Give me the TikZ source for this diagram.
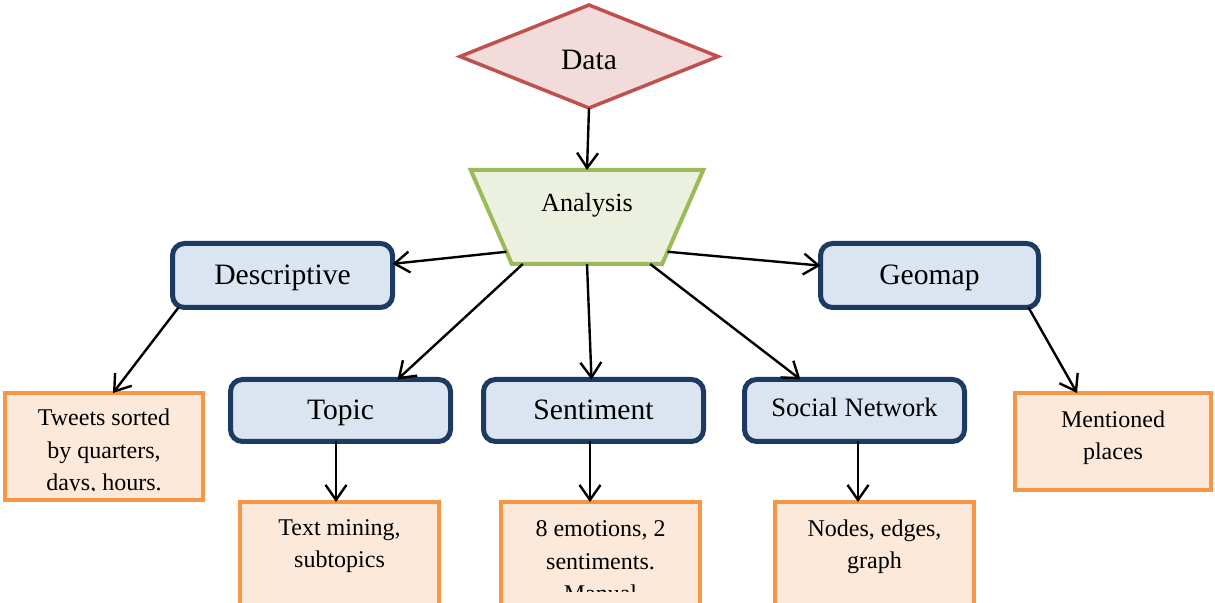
\documentclass[tikz,border=0pt]{standalone}
\usepackage{fontspec}
\setmainfont{Liberation Serif}
\usetikzlibrary{shapes.geometric,arrows.meta,calc}
\definecolor{bluedraw}{HTML}{1D3A62}
\definecolor{bluefill}{HTML}{DBE5F1}
\definecolor{orangedraw}{HTML}{F79646}
\definecolor{orangefill}{HTML}{FDE9D9}
\definecolor{greendraw}{HTML}{9BBB59}
\definecolor{greenfill}{HTML}{EBF1DE}
\definecolor{reddraw}{HTML}{C0504D}
\definecolor{redfill}{HTML}{F2DCDB}
\tikzset{
  bluebox/.style={draw=bluedraw, fill=bluefill, line width=2.5pt, rounded corners=6pt,
    minimum width=110pt, minimum height=32pt, inner sep=0pt, outer sep=0pt,
    font=\fontsize{14.8}{17}\selectfont, text height=12pt, text depth=3pt},
  orangebox/.style={draw=orangedraw, fill=orangefill, line width=2pt, inner sep=0pt, outer sep=0pt},
  otext/.style={font=\fontsize{12}{16.25}\selectfont, align=center, anchor=north, inner sep=0pt},
  arr/.style={-{Straight Barb[length=7.5pt,width=10.5pt]}, line width=1.2pt, black},
}
\begin{document}
\begin{tikzpicture}[x=0.5pt,y=-0.5pt]
\useasboundingbox (0,0) rectangle (1215,603);
\clip (0,0) rectangle (1215,603);

% top shapes
\node[diamond, draw=reddraw, fill=redfill, line width=1.75pt, inner sep=0pt, outer sep=0pt,
  minimum width=129pt, minimum height=51.5pt, font=\fontsize{14.8}{17}\selectfont,
  text height=15.3pt, text depth=2pt]
  (data) at (589,56.5) {Data};
\node[trapezium, trapezium left angle=116.6, trapezium right angle=116.6, trapezium stretches=true,
  draw=greendraw, fill=greenfill, line width=2pt, inner sep=2pt, outer sep=0pt,
  minimum width=117pt, minimum height=47pt, font=\fontsize{13.1}{15}\selectfont,
  text height=9pt, text depth=14.2pt]
  (ana) at (587,217) {Analysis};

% blue boxes
\node[bluebox] (desc) at (282.5,275.5) {Descriptive};
\node[bluebox, minimum width=109pt] (geo) at (929.5,275.5) {Geomap};
\node[bluebox, minimum height=31pt, text height=12.5pt] (topic) at (340.5,410.5) {Topic};
\node[bluebox, minimum height=31pt, text height=12.5pt] (sen) at (593.5,410.5) {Sentiment};
\node[bluebox, minimum height=31pt, font=\fontsize{13.3}{15}\selectfont, text height=9.5pt] (soc) at (854.5,410.5) {Social Network};

% orange boxes
\node[orangebox, minimum width=99pt, minimum height=53.5pt] (tw) at (104,446.5) {};
\node[orangebox, minimum width=99.5pt, minimum height=74pt] (tm) at (339.5,576) {};
\node[orangebox, minimum width=99.5pt, minimum height=74pt] (emo) at (600.5,576) {};
\node[orangebox, minimum width=99.5pt, minimum height=74pt] (nod) at (874.5,576) {};
\node[orangebox, minimum width=98pt, minimum height=48.5pt] (men) at (1113,441.5) {};

% orange texts
\begin{scope}
  \clip (0,391) rectangle (210,490.5);
  \node[otext] (twt) at (104,408.6) {Tweets sorted\\by quarters,\\days, hours.};
\end{scope}
\node[otext] (tmt) at (339.5,519) {Text mining,\\subtopics};
\begin{scope}
  \clip (495,500) rectangle (705,592);
  \node[otext] (emot) at (600.5,520.5) {8 emotions, 2\\sentiments.\\Manual};
\end{scope}
\node[otext] (nodt) at (874.5,519) {Nodes, edges,\\graph};
\node[otext] (ment) at (1113,410) {Mentioned\\places};

% connectors
\draw[arr] (data.south) -- (ana.north);
\draw[arr] ($(ana.bottom left corner)!0.13!(ana.top left corner)$) -- (desc);
\draw[arr] ($(ana.bottom right corner)!0.13!(ana.top right corner)$) -- (geo);
\draw[arr] ($(ana.bottom left corner)+(11,0)$) -- ($(topic.north)+(57,0)$);
\draw[arr] (ana.south) -- ($(sen.north)+(-2,0)$);
\draw[arr] ($(ana.bottom right corner)+(-12,0)$) -- ($(soc.north)+(-54,0)$);
\draw[arr] ($(desc.south west)+(6,0)$) -- ($(tw.north)+(9,0)$);
\draw[arr] ($(geo.south east)+(-10,0)$) -- ($(men.north)+(-36,0)$);
\draw[arr] ($(topic.south)+(-4.5,0)$) -- ($(tm.north)+(-3.5,0)$);
\draw[arr] ($(sen.south)+(-3.5,0)$) -- ($(emo.north)+(-10.5,0)$);
\draw[arr] ($(soc.south)+(3.5,0)$) -- ($(nod.north)+(-16.5,0)$);
\end{tikzpicture}
\end{document}
